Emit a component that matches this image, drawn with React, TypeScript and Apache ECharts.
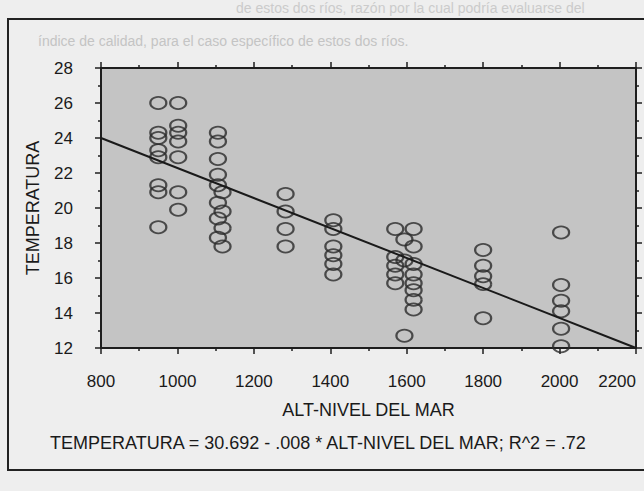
import React, { useEffect, useRef } from "react";
import * as echarts from "echarts";

const altitudes = [
  950, 950, 950, 950, 950, 950, 950, 950,
  1002, 1002, 1002, 1002, 1002, 1002, 1002,
  1106, 1106, 1106, 1106, 1106, 1106, 1106, 1106,
  1118, 1118, 1118, 1118,
  1283, 1283, 1283, 1283,
  1408, 1408, 1408, 1408, 1408, 1408,
  1570, 1570, 1570, 1570, 1570,
  1594, 1594, 1594,
  1618, 1618, 1618, 1618, 1618, 1618, 1618, 1618,
  1800, 1800, 1800, 1800, 1800,
  2004, 2004, 2004, 2004, 2004, 2004,
];
const temperatures = [
  26, 24.3, 24, 23.3, 22.9, 21.3, 20.9, 18.9,
  26, 24.7, 24.3, 23.8, 22.9, 20.9, 19.9,
  24.3, 23.8, 22.8, 21.9, 21.3, 20.3, 19.4, 18.3,
  20.9, 19.8, 18.85, 17.8,
  20.8, 19.8, 18.8, 17.8,
  19.3, 18.8, 17.8, 17.3, 16.8, 16.2,
  18.8, 17.2, 16.7, 16.2, 15.7,
  18.2, 17.0, 12.7,
  18.8, 17.8, 16.8, 16.2, 15.7, 15.3, 14.75, 14.2,
  17.6, 16.7, 16.1, 15.65, 13.7,
  18.6, 15.6, 14.7, 14.1, 13.1, 12.1,
];
const fitLine = [
  [800, 24.0],
  [2200, 12.0],
];
const xTitle = "ALT-NIVEL DEL MAR";
const yTitle = "TEMPERATURA";
const equation = "TEMPERATURA = 30.692 - .008 * ALT-NIVEL DEL MAR; R^2 = .72";
const bleedLine1 = "de estos dos ríos, razón por la cual podría evaluarse del";
const bleedLine2 = "índice de calidad, para el caso específico de estos dos ríos.";

export default function App() {
  const ref = useRef<HTMLDivElement>(null);
  useEffect(() => {
    if (!ref.current) return;
    const chart = echarts.init(ref.current, null, { renderer: "svg" });
    const font = "'Liberation Sans', Arial, sans-serif";
    const axisCommon = {
      type: "value" as const,
      axisLine: { show: true, onZero: false, lineStyle: { color: "#1e1e1e", width: 2 } },
      axisTick: { show: true, length: 6, lineStyle: { color: "#1e1e1e", width: 1.5 } },
      minorTick: { show: true, splitNumber: 2, length: 3, lineStyle: { color: "#1e1e1e", width: 1.5 } },
      splitLine: { show: false },
    };
    const pts = altitudes.map((a, i) => [a, temperatures[i]]);
    chart.setOption({
      animation: false,
      backgroundColor: "#eeeeee",
      textStyle: { fontFamily: font },
      grid: {
        left: 101,
        right: 8,
        top: 68,
        bottom: 143,
        outerBoundsMode: "none",
        containLabel: false,
        show: true,
        backgroundColor: "#c4c4c4",
        borderWidth: 0,
      },
      xAxis: [
        {
          ...axisCommon,
          position: "bottom",
          min: 800,
          max: 2200,
          interval: 200,
          name: xTitle,
          nameLocation: "middle",
          nameGap: 53,
          nameTextStyle: { color: "#1a1a1a", fontSize: 18, fontFamily: font },
          axisLabel: {
            color: "#1a1a1a",
            fontSize: 17,
            margin: 25,
            fontFamily: font,
            alignMaxLabel: "right",
            formatter: (v: number) => String(v),
          },
        },
        {
          ...axisCommon,
          position: "top",
          min: 800,
          max: 2200,
          interval: 200,
          axisLabel: { show: false },
        },
      ],
      yAxis: [
        {
          ...axisCommon,
          position: "left",
          min: 12,
          max: 28,
          interval: 2,
          name: yTitle,
          nameLocation: "middle",
          nameGap: 59,
          nameRotate: 90,
          nameTextStyle: { color: "#1a1a1a", fontSize: 18, fontFamily: font },
          axisLabel: {
            color: "#1a1a1a",
            fontSize: 17,
            margin: 28,
            fontFamily: font,
            formatter: (v: number) => String(v),
          },
        },
        {
          ...axisCommon,
          position: "right",
          min: 12,
          max: 28,
          interval: 2,
          axisLabel: { show: false },
        },
      ],
      series: [
        {
          type: "scatter",
          data: pts,
          symbol: "circle",
          symbolSize: [16, 12],
          itemStyle: { color: "rgba(0,0,0,0)", borderColor: "#2a2a2a", borderWidth: 2 },
          z: 3,
        },
        {
          type: "line",
          data: fitLine,
          symbol: "none",
          lineStyle: { color: "#1a1a1a", width: 2 },
          z: 4,
        },
      ],
      graphic: [
        {
          type: "text",
          left: 236,
          top: 1,
          style: { text: bleedLine1, fill: "#cbcbcb", font: `14px ${font}` },
          silent: true,
        },
        {
          type: "text",
          left: 38,
          top: 34,
          style: { text: bleedLine2, fill: "#c4c4c4", font: `14px ${font}` },
          silent: true,
        },
        {
          type: "rect",
          shape: { x: 8, y: 19, width: 660, height: 451 },
          style: { fill: "none", stroke: "#222", lineWidth: 2 },
          silent: true,
        },
        {
          type: "text",
          left: 50,
          top: 434,
          style: { text: equation, fill: "#1a1a1a", font: `18px ${font}` },
          silent: true,
        },
      ],
    });
    return () => chart.dispose();
  }, []);
  return (
    <div
      ref={ref}
      style={{ position: "absolute", left: 0, top: 0, width: 644, height: 491 }}
    />
  );
}
